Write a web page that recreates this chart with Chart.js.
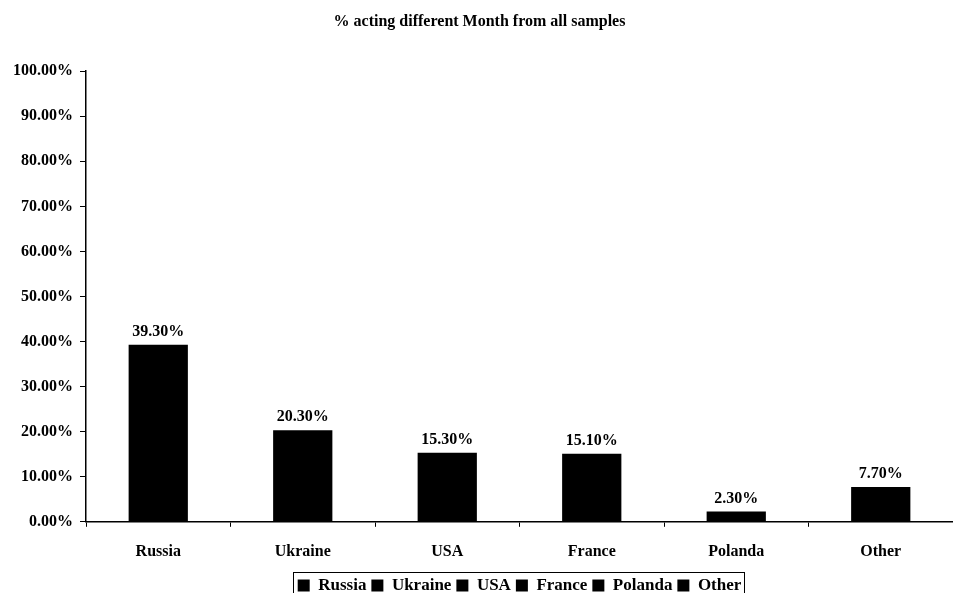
<!DOCTYPE html>
<html>
<head>
<meta charset="utf-8">
<script src="https://cdn.jsdelivr.net/npm/chart.js@4/dist/chart.umd.min.js"></script>
<style>
  html, body { margin: 0; padding: 0; background: #fff; }
  #wrap { width: 953px; height: 593px; }
</style>
</head>
<body>
<div id="wrap"><canvas id="countryChart"></canvas></div>
<script>
// chart data
var countries = ["Russia", "Ukraine", "USA", "France", "Polanda", "Other"];
var percentValues = [39.3, 20.3, 15.3, 15.1, 2.3, 7.7];
var yTicks = [0, 10, 20, 30, 40, 50, 60, 70, 80, 90, 100];
var chartTitle = "% acting different Month from all samples";

Chart.defaults.font.family = "'Liberation Serif', 'DejaVu Serif', serif";
Chart.defaults.font.weight = "bold";
Chart.defaults.color = "#000";

// draws value labels over bars
var valueLabels = {
  id: "valueLabels",
  afterDatasetsDraw: function(chart) {
    var ctx = chart.ctx;
    var meta = chart.getDatasetMeta(0);
    ctx.save();
    ctx.font = "bold 16px 'Liberation Serif', serif";
    ctx.fillStyle = "#000";
    ctx.textAlign = "center";
    ctx.textBaseline = "bottom";
    meta.data.forEach(function(bar, i) {
      ctx.fillText(percentValues[i].toFixed(2) + "%", bar.x, bar.y - 5);
    });
    ctx.restore();
  }
};

// center legend under the plot area and put a frame around it
var legendShift = -4;
var legendBox = {
  id: "legendBox",
  afterLayout: function(chart) {
    var lg = chart.legend;
    lg.left = chart.chartArea.left;
    lg.right = chart.chartArea.right;
    lg.width = lg.right - lg.left;
    lg.top += legendShift;
    lg.bottom += legendShift;
  },
  afterDraw: function(chart) {
    var lg = chart.legend;
    if (!lg || !lg.lineWidths) return;
    var pad = lg.options.labels.padding;
    var w = lg.lineWidths[0];
    var x0 = (lg.left + pad + lg.right - w) / 2;
    var ctx = chart.ctx;
    ctx.save();
    ctx.strokeStyle = "#000";
    ctx.lineWidth = 1;
    ctx.strokeRect(Math.round(x0 - 5) + 0.5, Math.round(lg.top) + 0.5, Math.round(w + 2), 30);
    ctx.restore();
  }
};

var ctx = document.getElementById("countryChart").getContext("2d");
var chart = new Chart(ctx, {
  type: "bar",
  data: {
    labels: countries,
    datasets: [{
      label: "% acting",
      data: percentValues,
      backgroundColor: "#000",
      borderWidth: 0,
      categoryPercentage: 1,
      barPercentage: 0.41
    }]
  },
  options: {
    responsive: true,
    maintainAspectRatio: false,
    animation: false,
    layout: { padding: { left: 6, right: 0, top: 0, bottom: -15 } },
    plugins: {
      title: {
        display: true,
        text: chartTitle,
        font: { size: 16, weight: "bold" },
        padding: { top: 12, bottom: 40 }
      },
      legend: {
        position: "bottom",
        labels: {
          boxWidth: 12,
          boxHeight: 12,
          padding: 5,
          font: { size: 17, weight: "bold" },
          generateLabels: function(chart) {
            return countries.map(function(c) {
              return { text: c, fillStyle: "#000", strokeStyle: "#000", lineWidth: 0, hidden: false };
            });
          }
        },
        onClick: null
      },
      tooltip: { enabled: false }
    },
    scales: {
      x: {
        grid: { drawOnChartArea: false, color: "#000", tickLength: 5, offset: true },
        border: { color: "#000", width: 1.5 },
        ticks: { font: { size: 16, weight: "bold" }, padding: 15 }
      },
      y: {
        min: 0,
        max: 100,
        afterBuildTicks: function(axis) {
          axis.ticks = yTicks.map(function(v) { return { value: v }; });
        },
        grid: { drawOnChartArea: false, color: "#000", tickLength: 6 },
        border: { color: "#000", width: 1.5 },
        ticks: {
          font: { size: 16, weight: "bold" },
          padding: 7,
          callback: function(v) { return v.toFixed(2) + "%"; }
        }
      }
    }
  },
  plugins: [valueLabels, legendBox]
});
</script>
</body>
</html>
